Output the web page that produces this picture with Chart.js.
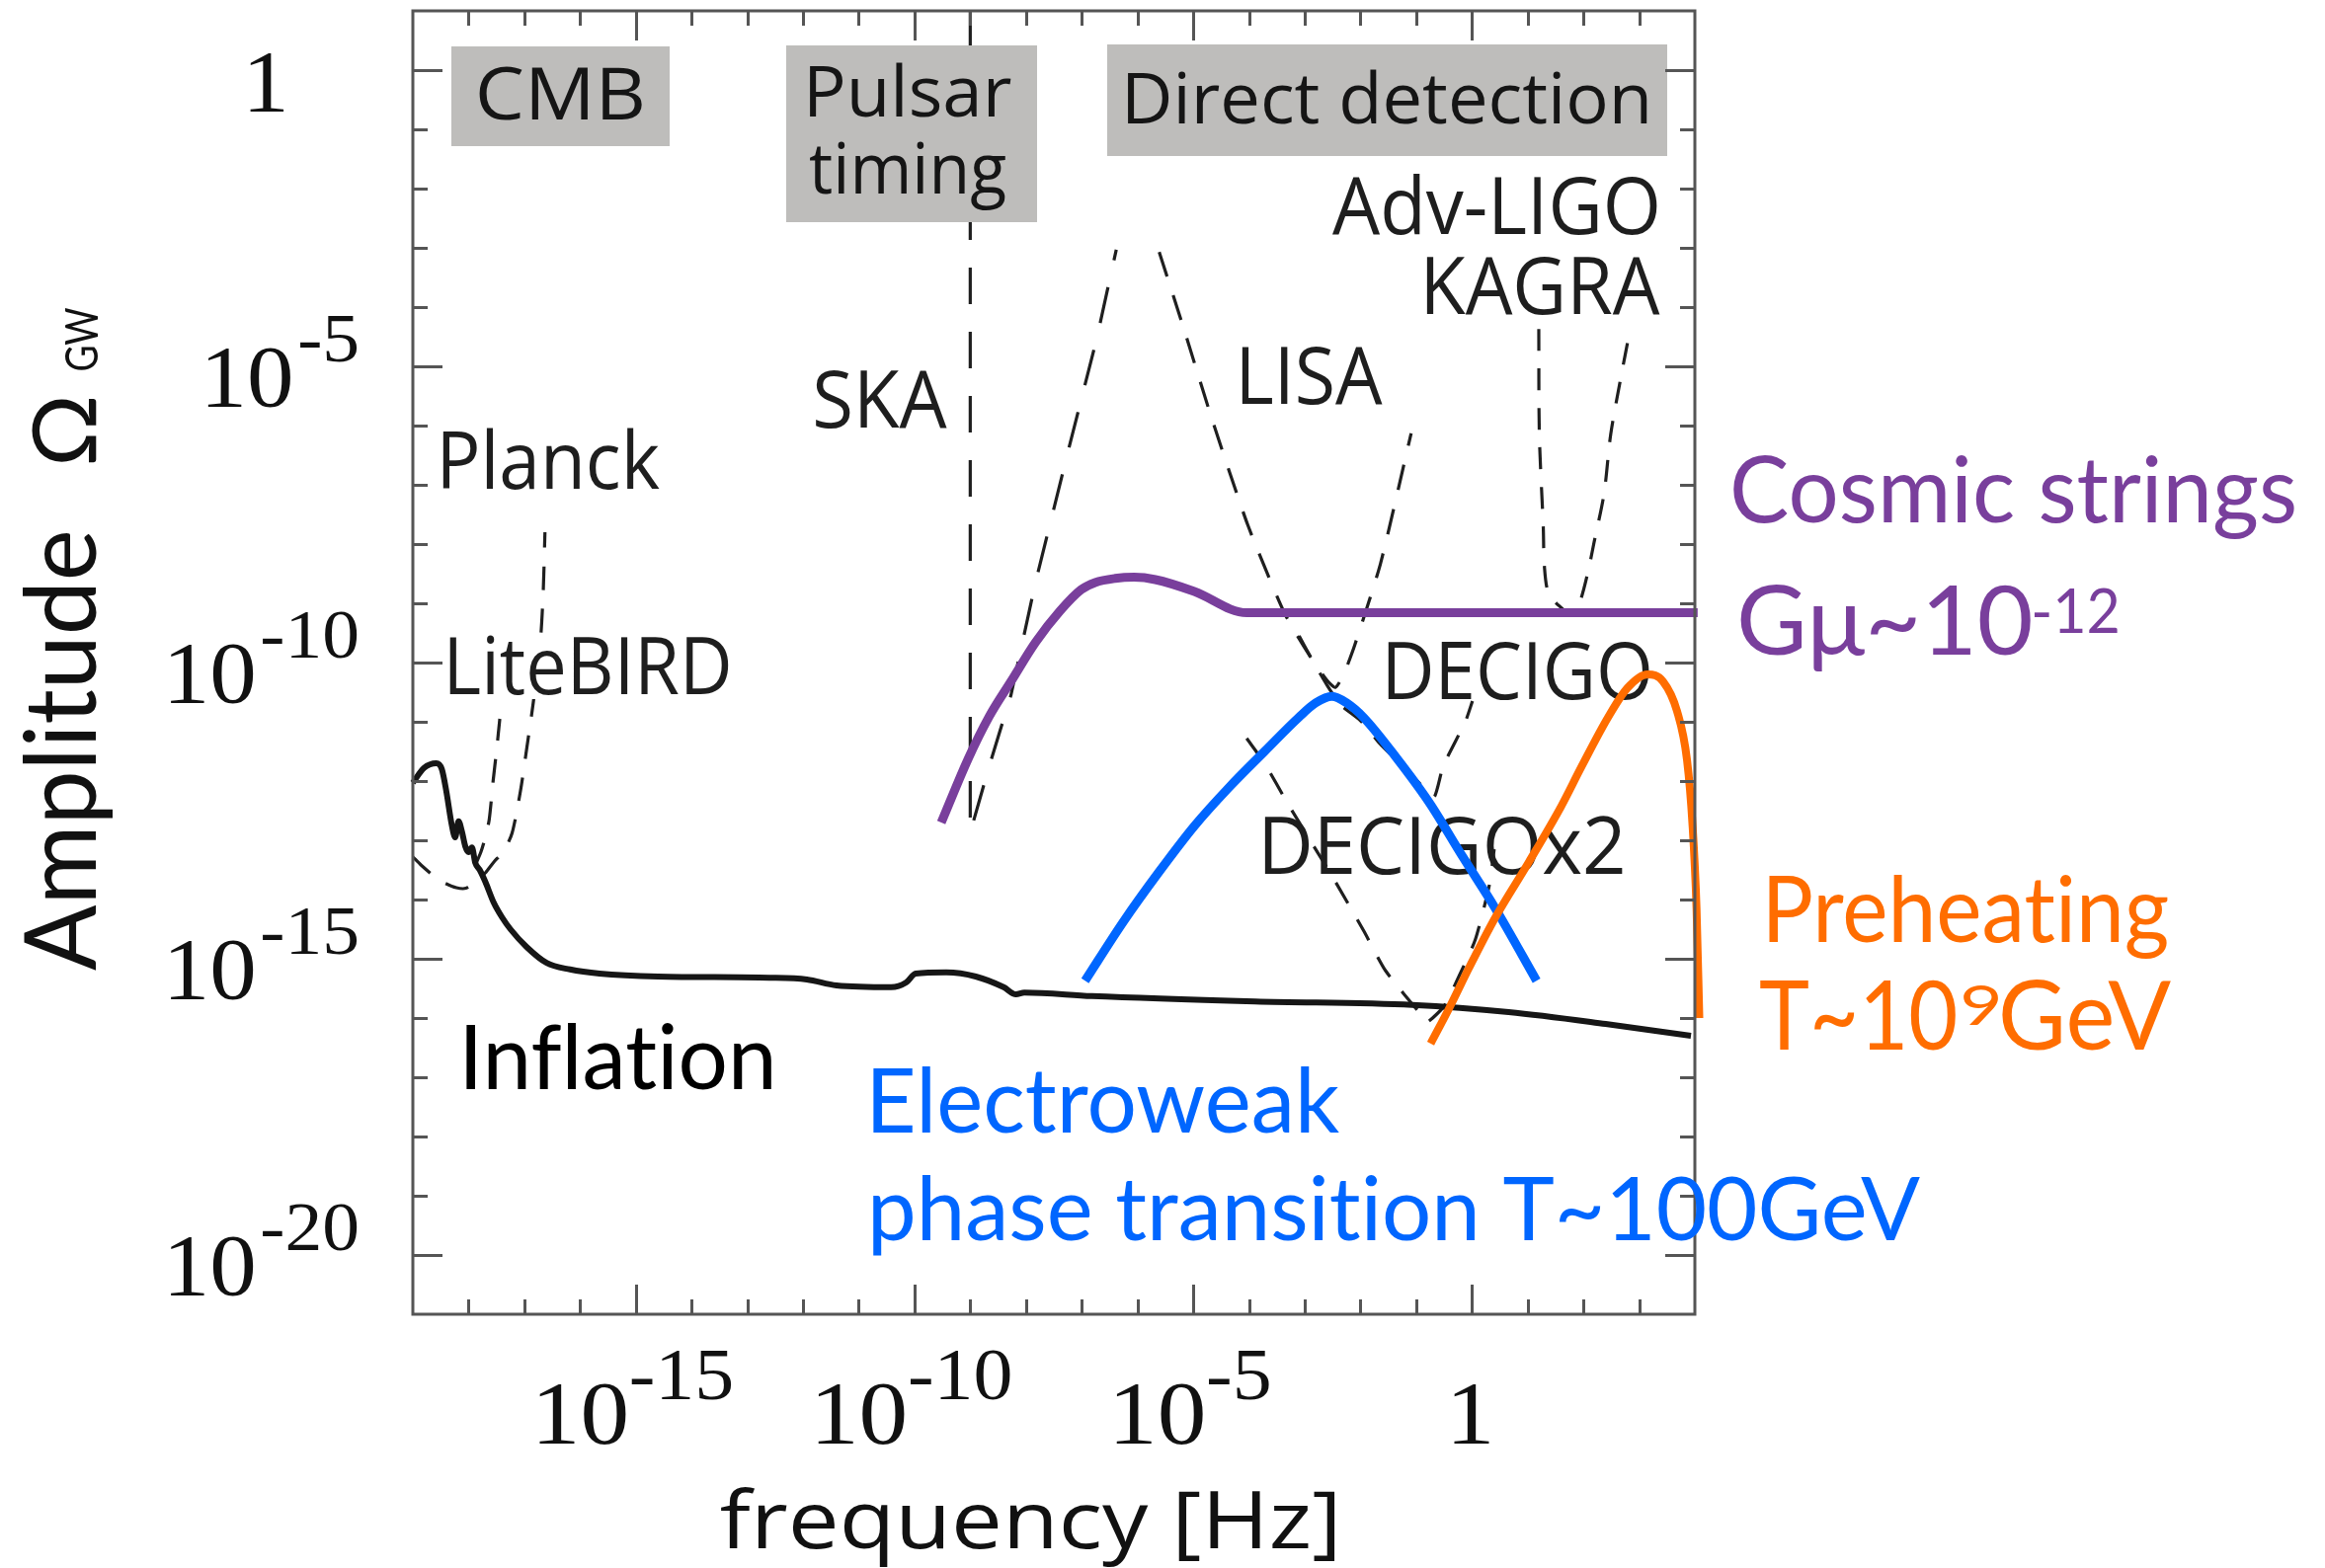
<!DOCTYPE html>
<html>
<head>
<meta charset="utf-8">
<title>Gravitational wave background spectrum</title>
<script src="https://cdn.jsdelivr.net/npm/chart.js@4.4.1/dist/chart.umd.min.js"></script>
<style>
  html, body { margin: 0; padding: 0; background: #ffffff; }
  #wrap { width: 2354px; height: 1588px; }
</style>
</head>
<body>
<div id="wrap"><canvas id="gw" width="2354" height="1588"></canvas></div>
<script>
// ---- axis ranges (powers of ten) ----
const X_MIN_EXP = -19, X_MAX_EXP = 4;      // framed frequency range
const X_SCALE_MAX_EXP = 4.2;               // a little room past the frame for curves that overshoot it
const Y_MIN_EXP = -21, Y_MAX_EXP = 1;
const xTickExponents = [-15, -10, -5, 0];
const yTickExponents = [0, -5, -10, -15, -20];

// ---- spectra: log10(frequency / Hz) and log10(Omega_GW) ----
const inflationLogF = [-19.0, -18.8, -18.58, -18.48, -18.4, -18.3, -18.24, -18.18, -18.12, -18.06, -18.0, -17.94, -17.88, -17.8, -17.7, -17.55, -17.4, -17.25, -16.96, -16.6, -16.18, -15.65, -14.6, -12.6, -11.93, -11.4, -10.42, -10.15, -9.98, -9.43, -8.9, -8.4, -8.18, -8.03, -6.82, -3.89, -1.07, 0.66, 2.4, 3.93];
const inflationLogOmega = [-12.03, -11.78, -11.7, -11.8, -12.17, -12.75, -12.95, -12.68, -12.85, -13.1, -13.2, -13.12, -13.38, -13.5, -13.7, -14.05, -14.3, -14.5, -14.8, -15.07, -15.18, -15.25, -15.3, -15.32, -15.35, -15.45, -15.48, -15.4, -15.25, -15.23, -15.3, -15.48, -15.6, -15.57, -15.63, -15.72, -15.78, -15.9, -16.1, -16.3];

const stringsLogF = [-9.52, -9.04, -8.66, -8.27, -7.83, -7.39, -7.01, -6.76, -6.4, -6.06, -5.68, -4.98, -4.04, 4.05];
const stringsLogOmega = [-12.7, -11.63, -10.91, -10.32, -9.66, -9.13, -8.77, -8.65, -8.58, -8.56, -8.6, -8.8, -9.16, -9.16];

const ewptLogF = [-6.94, -6.25, -5.61, -4.98, -4.35, -3.72, -3.1, -2.8, -2.51, -2.25, -1.94, -1.36, -0.76, -0.17, 0.42, 1.16];
const ewptLogOmega = [-15.37, -14.37, -13.53, -12.76, -12.1, -11.5, -10.92, -10.68, -10.57, -10.68, -10.93, -11.6, -12.37, -13.27, -14.15, -15.37];

const preheatLogF = [-0.74, -0.4, -0.05, 0.41, 1.02, 1.6, 1.96, 2.44, 2.79, 3.15, 3.43, 3.68, 3.86, 3.96, 4.03, 4.08];
const preheatLogOmega = [-16.43, -15.82, -15.15, -14.32, -13.37, -12.43, -11.77, -10.93, -10.43, -10.2, -10.32, -10.82, -11.65, -12.77, -14.15, -16.0];

// ---- detector sensitivity curves ----
const planckLogF = [-19.0, -18.85, -18.6, -18.43, -18.22, -18.05, -17.85, -17.7, -17.55, -17.37, -17.22, -17.07, -16.96, -16.84, -16.71, -16.66, -16.63];
const planckLogOmega = [-13.28, -13.42, -13.62, -13.72, -13.8, -13.81, -13.68, -13.55, -13.37, -13.18, -12.88, -12.17, -11.47, -10.68, -9.62, -8.78, -7.8];

const litebirdLogF = [-17.88, -17.78, -17.7, -17.63, -17.56, -17.5, -17.44];
const litebirdLogOmega = [-13.42, -13.2, -12.95, -12.65, -12.0, -11.5, -10.95];

const skaLogF = [-9.0, -9.0, -8.66, -8.27, -7.83, -7.23, -6.73, -6.38];
const skaLogOmega = [1.0, -12.87, -11.75, -10.55, -8.65, -6.38, -4.53, -3.03];

const lisaLogF = [-5.61, -5.19, -4.66, -4.02, -3.36, -2.9, -2.6, -2.45, -2.3, -2.1, -1.64, -1.09];
const lisaLogOmega = [-3.07, -4.3, -5.9, -7.68, -9.17, -9.9, -10.3, -10.42, -10.2, -9.7, -8.33, -6.13];

const decigoLogF = [-3.1, -2.85, -2.6, -2.36, -2.0, -1.65, -1.23, -0.82, -0.67, -0.52, -0.29, -0.11, 0.01];
const decigoLogOmega = [-9.55, -9.98, -10.38, -10.71, -10.98, -11.37, -11.76, -12.15, -12.26, -11.76, -11.32, -10.98, -10.65];

const decigo2LogF = [-4.04, -3.72, -3.31, -2.48, -1.94, -1.55, -0.88, -0.8, -0.5, -0.22, 0.06, 0.31, 0.4];
const decigo2LogOmega = [-11.28, -11.7, -12.37, -13.65, -14.53, -15.2, -15.98, -16.07, -15.8, -15.27, -14.68, -13.77, -13.15];

const ligoLogF = [1.2, 1.21, 1.28, 1.3, 1.37, 1.55, 1.78, 1.92, 2.08, 2.19, 2.37, 2.49, 2.67, 2.84];
const ligoLogOmega = [-4.37, -6.15, -7.7, -8.37, -8.82, -9.03, -9.18, -9.02, -8.48, -7.98, -7.15, -6.15, -5.2, -4.37];

// ---- styling ----
const PURPLE = '#793f9c';
const BLUE = '#0066ff';
const ORANGE = '#ff6d00';
const DASH_COLOR = '#1f1f1f';
const FRAME_COLOR = '#555555';
const BOX_GRAY = '#bebdbb';

const LABEL_FONT = "'Open Sans', 'DejaVu Sans', sans-serif";
const GILL_FONT = "Lato, 'Noto Sans', sans-serif";
const TEX_FONT = "'Liberation Serif', 'DejaVu Serif', serif";

// plot frame in page pixels; the x scale runs a bit past the right edge of the frame
const FRAME = { left: 418, top: 11, right: 1716, bottom: 1331 };
const PX_PER_DECADE_X = (FRAME.right - FRAME.left) / (X_MAX_EXP - X_MIN_EXP);
const SCALE_RIGHT = FRAME.right + (X_SCALE_MAX_EXP - X_MAX_EXP) * PX_PER_DECADE_X;

const toPoints = (lf, lo) => lf.map((v, i) => ({ x: Math.pow(10, v), y: Math.pow(10, lo[i]) }));

function solid(points, color, width) {
  return {
    data: points, borderColor: color, borderWidth: width, pointRadius: 0,
    cubicInterpolationMode: 'monotone', borderJoinStyle: 'round', borderCapStyle: 'butt',
    fill: false, clip: 12
  };
}
function dashed(points, dash, tension) {
  return {
    data: points, borderColor: DASH_COLOR, borderWidth: 3.2, pointRadius: 0,
    borderDash: dash, tension: tension, borderCapStyle: 'butt', fill: false
  };
}

// earlier entries are painted last (on top)
const datasets = [
  solid(toPoints(preheatLogF, preheatLogOmega), ORANGE, 8),
  solid(toPoints(ewptLogF, ewptLogOmega), BLUE, 9),
  solid(toPoints(stringsLogF, stringsLogOmega), PURPLE, 9),
  solid(toPoints(inflationLogF, inflationLogOmega), '#161616', 6),
  dashed(toPoints(planckLogF, planckLogOmega), [24, 19], 0.25),
  dashed(toPoints(litebirdLogF, litebirdLogOmega), [24, 19], 0.25),
  dashed(toPoints(skaLogF, skaLogOmega), [37, 28], 0),
  dashed(toPoints(lisaLogF, lisaLogOmega), [26, 20], 0.2),
  dashed(toPoints(decigoLogF, decigoLogOmega), [24, 19], 0.2),
  dashed(toPoints(decigo2LogF, decigo2LogOmega), [24, 19], 0.2),
  dashed(toPoints(ligoLogF, ligoLogOmega), [22, 18], 0.3)
];

function setFont(ctx, size, family) {
  ctx.font = size + 'px ' + family;
  ctx.textAlign = 'left';
  ctx.textBaseline = 'alphabetic';
  if ('letterSpacing' in ctx) ctx.letterSpacing = '0.01px';   // keeps letters as separate glyphs (no "ti" ligature)
}

// text whose ink box starts at `left`, optionally stretched to a given ink width
function inkText(ctx, s, left, base, size, family, color, width, sx0) {
  ctx.save();
  setFont(ctx, size, family);
  const m = ctx.measureText(s);
  const ink = m.actualBoundingBoxLeft + m.actualBoundingBoxRight;
  const sx = width ? width / ink : (sx0 || 1);
  ctx.translate(left + m.actualBoundingBoxLeft * sx, base);
  ctx.scale(sx, 1);
  ctx.fillStyle = color;
  ctx.fillText(s, 0, 0);
  ctx.restore();
  return ink * sx;
}
function inkWidth(ctx, s, size, family, sx) {
  ctx.save();
  setFont(ctx, size, family);
  const m = ctx.measureText(s);
  ctx.restore();
  return (m.actualBoundingBoxLeft + m.actualBoundingBoxRight) * (sx || 1);
}
function rotText(ctx, s, baseX, startY, size, family, color, width) {
  ctx.save();
  setFont(ctx, size, family);
  const m = ctx.measureText(s);
  const ink = m.actualBoundingBoxLeft + m.actualBoundingBoxRight;
  const sx = width / ink;
  ctx.translate(baseX, startY);
  ctx.rotate(-Math.PI / 2);
  ctx.translate(m.actualBoundingBoxLeft * sx, 0);
  ctx.scale(sx, 1);
  ctx.fillStyle = color;
  ctx.fillText(s, 0, 0);
  ctx.restore();
}

const framePlugin = {
  id: 'gwFrame',
  beforeDatasetsDraw(chart) {
    const ctx = chart.ctx;
    // detector names
    inkText(ctx, 'Planck', 448, 495, 80, LABEL_FONT, '#1e1e1e', 220);
    inkText(ctx, 'SKA', 826, 433, 80, LABEL_FONT, '#1e1e1e', 133);
    inkText(ctx, 'LISA', 1257, 409, 80, LABEL_FONT, '#1e1e1e', 143);
    inkText(ctx, 'Adv-LIGO', 1349, 237, 80, LABEL_FONT, '#1e1e1e', 329);
    inkText(ctx, 'KAGRA', 1444, 318, 80, LABEL_FONT, '#1e1e1e', 237);
    inkText(ctx, 'DECIGO', 1405, 708, 80, LABEL_FONT, '#1e1e1e', 265);
    inkText(ctx, 'DECIGOx2', 1280, 885, 80, LABEL_FONT, '#1e1e1e', 363);
  },
  afterDatasetsDraw(chart) {
    const ctx = chart.ctx;
    const xs = chart.scales.x, ys = chart.scales.y;
    const left = xs.getPixelForValue(Math.pow(10, X_MIN_EXP));
    const right = xs.getPixelForValue(Math.pow(10, X_MAX_EXP));
    const top = ys.getPixelForValue(Math.pow(10, Y_MAX_EXP));
    const bottom = ys.getPixelForValue(Math.pow(10, Y_MIN_EXP));

    // LiteBIRD label sits on a white patch
    ctx.save();
    ctx.fillStyle = '#ffffff';
    ctx.fillRect(452, 644, 292, 64);
    ctx.restore();
    inkText(ctx, 'LiteBIRD', 455, 703, 80, LABEL_FONT, '#1e1e1e', 283);

    // band boxes
    ctx.save();
    ctx.fillStyle = BOX_GRAY;
    ctx.fillRect(457, 47, 221, 101);
    ctx.fillRect(796, 46, 254, 179);
    ctx.fillRect(1121, 45, 567, 113);
    ctx.restore();
    inkText(ctx, 'CMB', 485, 121, 74, LABEL_FONT, '#151515', 165);
    inkText(ctx, 'Pulsar', 820, 118, 72, LABEL_FONT, '#151515', 204);
    inkText(ctx, 'timing', 820, 196, 72, LABEL_FONT, '#151515', 198);
    inkText(ctx, 'Direct detection', 1142, 125, 72, LABEL_FONT, '#151515', 526);

    // frame and inward ticks on all four sides
    ctx.save();
    ctx.strokeStyle = FRAME_COLOR;
    ctx.lineWidth = 3;
    ctx.strokeRect(left, top, right - left, bottom - top);
    ctx.beginPath();
    for (let e = X_MIN_EXP + 1; e < X_MAX_EXP; e++) {
      const px = Math.round(xs.getPixelForValue(Math.pow(10, e))) + 0.5;
      const len = e % 5 === 0 ? 30 : 15;
      ctx.moveTo(px, bottom); ctx.lineTo(px, bottom - len);
      ctx.moveTo(px, top); ctx.lineTo(px, top + len);
    }
    for (let e = Y_MIN_EXP + 1; e < Y_MAX_EXP; e++) {
      const py = Math.round(ys.getPixelForValue(Math.pow(10, e))) + 0.5;
      const len = e % 5 === 0 ? 30 : 15;
      ctx.moveTo(left, py); ctx.lineTo(left + len, py);
      ctx.moveTo(right, py); ctx.lineTo(right - len, py);
    }
    ctx.stroke();
    ctx.restore();

    // tick labels, powers of ten
    const HS = 1.08;
    const ink = '#111111';
    yTickExponents.forEach(e => {
      const py = ys.getPixelForValue(Math.pow(10, e));
      if (e === 0) {
        const w = inkWidth(ctx, '1', 88, TEX_FONT, HS);
        inkText(ctx, '1', 270 - w / 2, py + 41, 88, TEX_FONT, ink, null, HS);
        return;
      }
      const ex = '-' + (-e);
      const wb = inkWidth(ctx, '10', 88, TEX_FONT, HS);
      const we = inkWidth(ctx, ex, 70, TEX_FONT, HS);
      const x0 = 362 - (wb + 9 + we);
      inkText(ctx, '10', x0, py + 40, 88, TEX_FONT, ink, null, HS);
      inkText(ctx, ex, x0 + wb + 9, py - 5, 70, TEX_FONT, ink, null, HS);
    });
    xTickExponents.forEach(e => {
      const px = xs.getPixelForValue(Math.pow(10, e));
      if (e === 0) {
        const w = inkWidth(ctx, '1', 92, TEX_FONT, HS);
        inkText(ctx, '1', px - w / 2, bottom + 131, 92, TEX_FONT, ink, null, HS);
        return;
      }
      const ex = '-' + (-e);
      const wb = inkWidth(ctx, '10', 92, TEX_FONT, HS);
      const we = inkWidth(ctx, ex, 74, TEX_FONT, HS);
      const x0 = px - (wb + 5 + we) / 2;
      inkText(ctx, '10', x0, bottom + 131, 92, TEX_FONT, ink, null, HS);
      inkText(ctx, ex, x0 + wb + 5, bottom + 86, 74, TEX_FONT, ink, null, HS);
    });

    // axis titles
    inkText(ctx, 'frequency [Hz]', 730, 1568, 81, LABEL_FONT, '#111111', 621);
    rotText(ctx, 'Amplitude', 97, 983, 100, GILL_FONT, '#111111', 443);
    rotText(ctx, '\u03A9', 97, 469, 90, GILL_FONT, '#111111', 65);
    rotText(ctx, 'GW', 99, 375, 46, GILL_FONT, '#111111', 63);

    // source annotations
    inkText(ctx, 'Inflation', 472, 1103, 91, GILL_FONT, '#000000', 309);
    inkText(ctx, 'Cosmic strings', 1755, 529, 93, GILL_FONT, PURPLE, 568);
    inkText(ctx, 'G\u03BC~10', 1762, 663, 96, GILL_FONT, PURPLE, 294);
    inkText(ctx, '-12', 2059, 641, 62, GILL_FONT, PURPLE, 85);
    inkText(ctx, 'Preheating', 1791, 954, 93, GILL_FONT, ORANGE, 404);
    inkText(ctx, 'T~10', 1782, 1063, 96, GILL_FONT, ORANGE, 198);
    inkText(ctx, '9', 1987, 1038, 56, GILL_FONT, ORANGE, 36);
    inkText(ctx, 'GeV', 2027, 1063, 96, GILL_FONT, ORANGE, 171);
    inkText(ctx, 'Electroweak', 884, 1147, 91, GILL_FONT, BLUE, 472);
    inkText(ctx, 'phase transition T~100GeV', 884, 1256, 90, GILL_FONT, BLUE, 1060);
  }
};

new Chart(document.getElementById('gw').getContext('2d'), {
  type: 'line',
  data: { datasets: datasets },
  options: {
    responsive: false,
    animation: false,
    devicePixelRatio: 1,
    events: [],
    layout: { padding: { left: FRAME.left, top: FRAME.top, right: 2354 - SCALE_RIGHT, bottom: 1588 - FRAME.bottom } },
    plugins: { legend: { display: false }, tooltip: { enabled: false } },
    elements: { point: { radius: 0 } },
    scales: {
      x: { type: 'logarithmic', min: Math.pow(10, X_MIN_EXP), max: Math.pow(10, X_SCALE_MAX_EXP), display: false },
      y: { type: 'logarithmic', min: Math.pow(10, Y_MIN_EXP), max: Math.pow(10, Y_MAX_EXP), display: false }
    }
  },
  plugins: [framePlugin]
});
</script>
</body>
</html>
